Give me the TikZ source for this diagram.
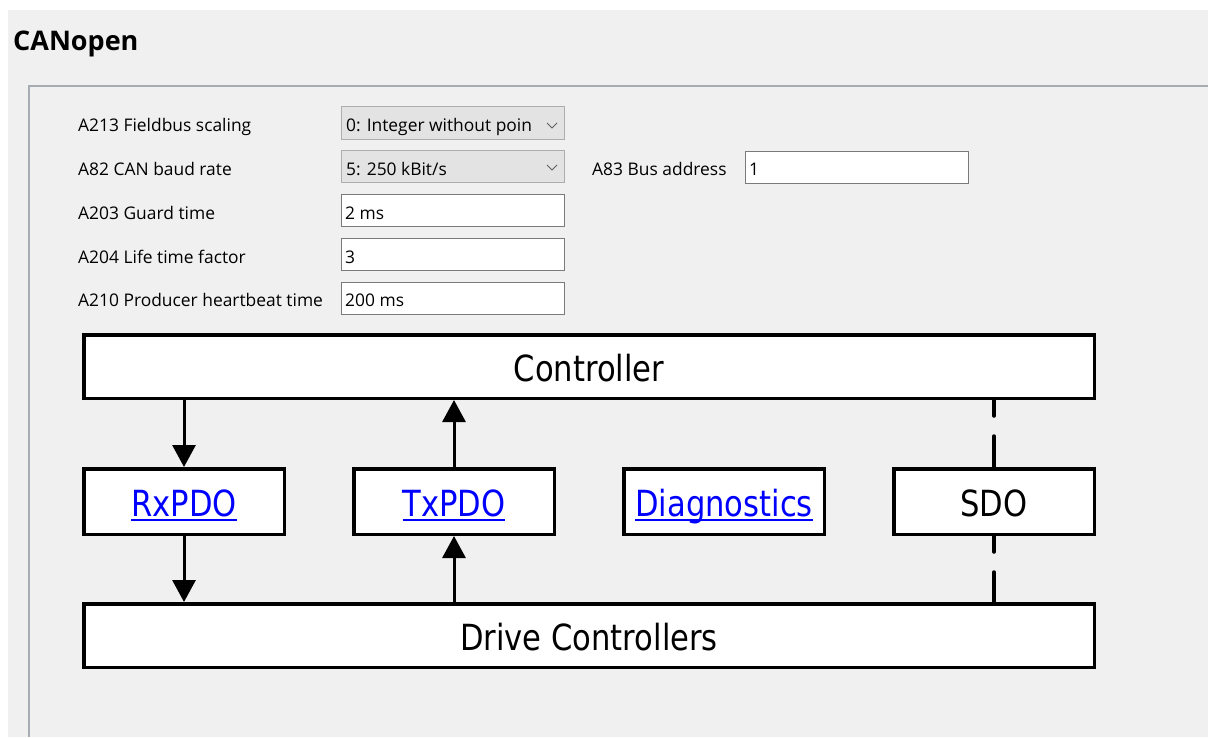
\documentclass[tikz,border=0pt]{standalone}
\usepackage{fontspec}
\setmainfont{Open Sans}
\newfontfamily\diafont{DejaVu Sans}[FakeStretch=0.85]
\newcommand\lnkul[1]{\setbox0\hbox{#1}\rlap{\raisebox{-4pt}[0pt][0pt]{\rule{\wd0}{2pt}}}\box0}
\usetikzlibrary{arrows.meta}
\definecolor{panel}{HTML}{F0F0F0}
\definecolor{framegray}{HTML}{A7ACB2}
\definecolor{combofill}{HTML}{E3E3E3}
\definecolor{comboborder}{HTML}{ADADAD}
\definecolor{editborder}{HTML}{7A7A7A}
\definecolor{linkblue}{HTML}{0000FF}
\definecolor{chevgray}{HTML}{606060}
\begin{document}
\begin{tikzpicture}[x=1pt,y=-1pt,
  lab/.style={anchor=base west, inner sep=0pt, font=\fontsize{17.4}{20}\selectfont},
  combo/.style={draw=comboborder, fill=combofill, line width=1pt, inner sep=0pt, minimum width=223pt, minimum height=32.5pt},
  edit/.style={draw=editborder, fill=white, line width=1pt, inner sep=0pt, minimum width=223pt, minimum height=32pt},
  chev/.style={draw=chevgray, line width=1pt},
  bigbox/.style={draw=black, fill=white, line width=3.5pt, inner sep=0pt, minimum width=1010.5pt, minimum height=63.5pt, text height=30pt, text depth=0pt, font=\diafont\fontsize{36}{40}\selectfont},
  smallbox/.style={draw=black, fill=white, line width=3.5pt, inner sep=0pt, minimum width=200.5pt, minimum height=65.5pt, text height=30pt, text depth=0pt, font=\diafont\fontsize{36}{40}\selectfont},
  arr/.style={draw=black, line width=3pt, -{Triangle[width=23pt,length=22pt]}},
  sdoline/.style={draw=black, line width=3.5pt, line cap=round, dash pattern=on 16pt off 20pt on 80pt}
]
\useasboundingbox (0,0) rectangle (1208,737);
\fill[white] (0,0) rectangle (1208,737);
\fill[panel] (8,10) rectangle (1208,737);
\draw[framegray, line width=2pt] (29,737) -- (29,86) -- (1208,86);

\node[anchor=base west, inner sep=0pt, font=\bfseries\fontsize{27}{31}\selectfont] (title) at (13,50) {CANopen};

% labels
\node[lab] (l213) at (78,131.5) {A213 Fieldbus scaling};
\node[lab] (l82)  at (78,175.5) {A82 CAN baud rate};
\node[lab] (l203) at (78,219.5) {A203 Guard time};
\node[lab] (l204) at (78,263) {A204 Life time factor};
\node[lab] (l210) at (78,306.5) {A210 Producer heartbeat time};
\node[lab] (l83)  at (592,175.5) {A83 Bus address};

% fields
\node[combo] (c213) at (453,122.75) {};
\node[combo] (c82)  at (453,166.7) {};
\node[edit] (e203) at (453,210.7) {};
\node[edit] (e204) at (453,254.7) {};
\node[edit] (e210) at (453,298.3) {};
\node[edit] (e83)  at (857,167) {};

\begin{scope}
\clip (345,106) rectangle (530.5,140);
\node[lab] (v213) at (346,131.5) {0: Integer without point};
\end{scope}
\draw[chev] (547,123) -- (552,128) -- (557,123);
\node[lab] (v82) at (346,175.5) {5: 250 kBit/s};
\draw[chev] (547,165) -- (552,170) -- (557,165);
\node[lab] (v203) at (345,219.5) {2 ms};
\node[lab] (v204) at (345,263) {3};
\node[lab] (v210) at (345,306.5) {200 ms};
\node[lab] (v83)  at (749,175.5) {1};

% diagram
\node[bigbox] (ctrl) at (589,366.5) {Controller};
\node[smallbox] (rx)  at (184,501.5) {\color{linkblue}\lnkul{RxPDO}};
\node[smallbox] (tx)  at (454,501.5) {\color{linkblue}\lnkul{TxPDO}};
\node[smallbox] (dia) at (724,501.5) {\color{linkblue}\lnkul{Diagnostics}};
\node[smallbox] (sdo) at (994,501.5) {SDO};
\node[bigbox] (drive) at (589,635.5) {Drive Controllers};

\draw[arr] (ctrl.south -| rx.north) -- (rx.north);
\draw[arr] (rx.south) -- (drive.north -| rx.south);
\draw[arr] (drive.north -| tx.south) -- (tx.south);
\draw[arr] (tx.north) -- (ctrl.south -| tx.north);
\draw[sdoline] (ctrl.south -| sdo.north) -- (sdo.north);
\draw[sdoline] (sdo.south) -- (drive.north -| sdo.south);
\end{tikzpicture}
\end{document}
